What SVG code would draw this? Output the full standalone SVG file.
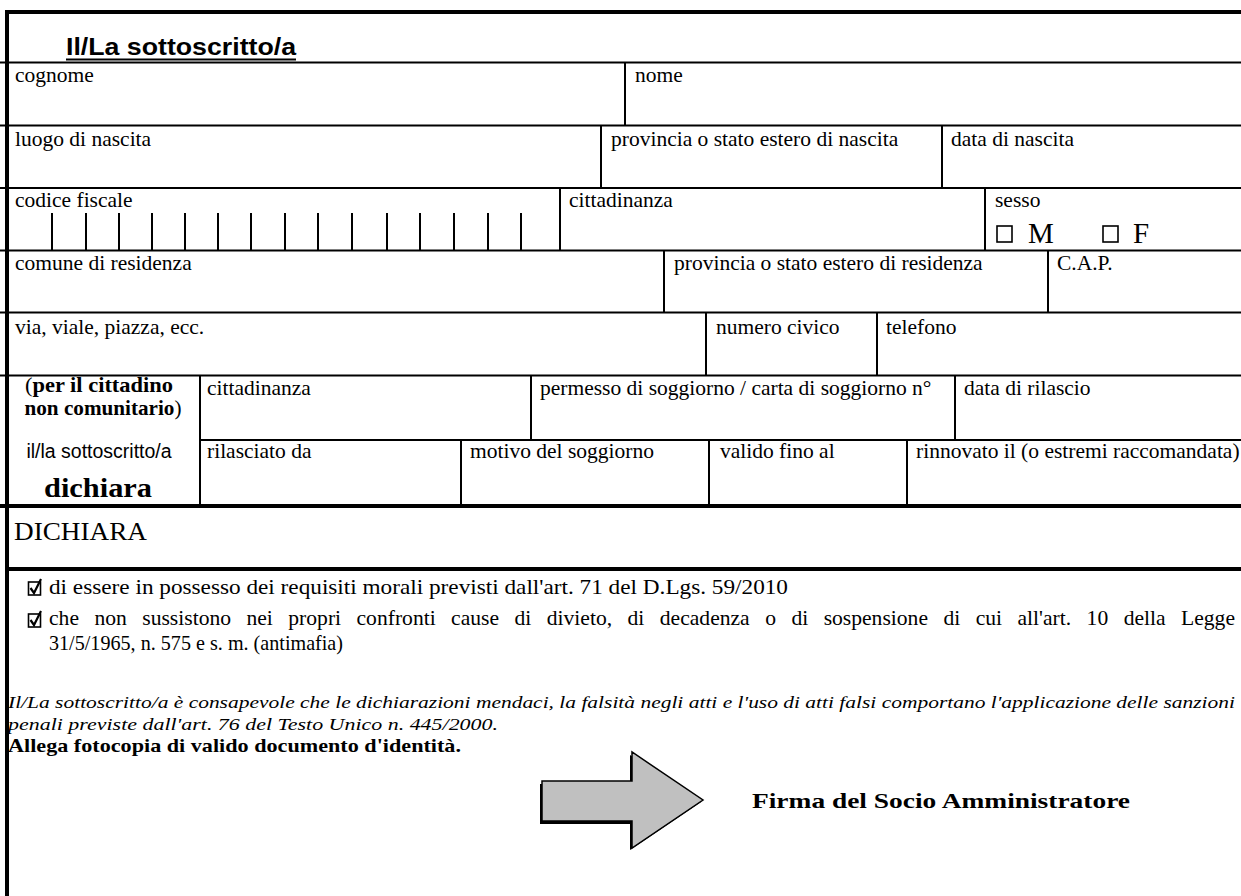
<svg xmlns="http://www.w3.org/2000/svg" width="1241" height="896" viewBox="0 0 1241 896">
<style>
.ln{stroke:#000;stroke-width:2;fill:none}
.thick{stroke:#000;stroke-width:4;fill:none}
.lbl{font-family:"Liberation Serif","Times New Roman",serif;font-size:21.5px;fill:#000}
.b{font-weight:bold}
.it{font-style:italic}
.sans{font-family:"Liberation Sans",Arial,sans-serif}
.box{fill:none;stroke:#000;stroke-width:1.6}
</style>
<rect width="1241" height="896" fill="#fff"/>
<g id="frame">
<line class="thick" x1="5" y1="12" x2="1241" y2="12"/>
<line class="thick" x1="7" y1="10" x2="7" y2="896"/>
</g>
<g id="title">
<text x="66" y="55" class="sans b" style="font-size:23.5px" textLength="230" lengthAdjust="spacingAndGlyphs">Il/La sottoscritto/a</text>
<line x1="66" y1="59.5" x2="296" y2="59.5" stroke="#000" stroke-width="2"/>
</g>
<g id="connectors">
<line class="ln" x1="0" y1="62.5" x2="1241" y2="62.5"/>
<line class="ln" x1="0" y1="125.5" x2="1241" y2="125.5"/>
<line class="ln" x1="0" y1="188" x2="1241" y2="188"/>
<line class="ln" x1="0" y1="250.5" x2="1241" y2="250.5"/>
<line class="ln" x1="0" y1="312.5" x2="1241" y2="312.5"/>
<line class="ln" x1="0" y1="375.5" x2="1241" y2="375.5"/>
<line class="ln" x1="200" y1="440" x2="1241" y2="440"/>
<line class="thick" x1="0" y1="506" x2="1241" y2="506"/>
<line class="thick" x1="9" y1="569" x2="1241" y2="569"/>
<line class="ln" x1="625" y1="62" x2="625" y2="125"/>
<line class="ln" x1="601" y1="125" x2="601" y2="188"/>
<line class="ln" x1="942" y1="125" x2="942" y2="188"/>
<line class="ln" x1="560" y1="188" x2="560" y2="250"/>
<line class="ln" x1="985" y1="188" x2="985" y2="250"/>
<line class="ln" x1="664" y1="250" x2="664" y2="312"/>
<line class="ln" x1="1048" y1="250" x2="1048" y2="312"/>
<line class="ln" x1="706" y1="312" x2="706" y2="375"/>
<line class="ln" x1="877" y1="312" x2="877" y2="375"/>
<line class="ln" x1="200" y1="375" x2="200" y2="506"/>
<line class="ln" x1="531" y1="375" x2="531" y2="440"/>
<line class="ln" x1="955" y1="375" x2="955" y2="440"/>
<line class="ln" x1="461" y1="440" x2="461" y2="506"/>
<line class="ln" x1="709" y1="440" x2="709" y2="506"/>
<line class="ln" x1="907" y1="440" x2="907" y2="506"/>
</g>
<g id="cognome"><text class="lbl" x="15" y="82">cognome</text></g>
<g id="nome"><text class="lbl" x="635" y="82">nome</text></g>
<g id="luogo-nascita"><text class="lbl" x="15" y="146">luogo di nascita</text></g>
<g id="provincia-nascita"><text class="lbl" x="611" y="146">provincia o stato estero di nascita</text></g>
<g id="data-nascita"><text class="lbl" x="951" y="146">data di nascita</text></g>
<g id="codice-fiscale">
<text class="lbl" x="15" y="207">codice fiscale</text>
<g class="ln">
<line x1="52" y1="213" x2="52" y2="250"/><line x1="86" y1="213" x2="86" y2="250"/><line x1="119" y1="213" x2="119" y2="250"/><line x1="152" y1="213" x2="152" y2="250"/><line x1="185" y1="213" x2="185" y2="250"/><line x1="218" y1="213" x2="218" y2="250"/><line x1="251" y1="213" x2="251" y2="250"/><line x1="285" y1="213" x2="285" y2="250"/><line x1="318" y1="213" x2="318" y2="250"/><line x1="352" y1="213" x2="352" y2="250"/><line x1="387" y1="213" x2="387" y2="250"/><line x1="420" y1="213" x2="420" y2="250"/><line x1="454" y1="213" x2="454" y2="250"/><line x1="488" y1="213" x2="488" y2="250"/><line x1="521" y1="213" x2="521" y2="250"/>
</g>
</g>
<g id="cittadinanza1"><text class="lbl" x="569" y="207">cittadinanza</text></g>
<g id="sesso">
<text class="lbl" x="995" y="207">sesso</text>
<rect class="box" x="997" y="226" width="15" height="16"/>
<text class="lbl" x="1028" y="243" style="font-size:29px">M</text>
<rect class="box" x="1103" y="226" width="15" height="16"/>
<text class="lbl" x="1133" y="243" style="font-size:29px">F</text>
</g>
<g id="comune-residenza"><text class="lbl" x="15" y="270">comune di residenza</text></g>
<g id="provincia-residenza"><text class="lbl" x="674" y="270">provincia o stato estero di residenza</text></g>
<g id="cap"><text class="lbl" x="1057" y="270">C.A.P.</text></g>
<g id="via"><text class="lbl" x="15" y="334">via, viale, piazza, ecc.</text></g>
<g id="numero-civico"><text class="lbl" x="716" y="334">numero civico</text></g>
<g id="telefono"><text class="lbl" x="886" y="334">telefono</text></g>
<g id="non-comunitario">
<text class="lbl" x="99" y="392" text-anchor="middle" textLength="148" lengthAdjust="spacingAndGlyphs">(<tspan class="b">per il cittadino</tspan></text>
<text class="lbl" x="103" y="415" text-anchor="middle" textLength="157" lengthAdjust="spacingAndGlyphs"><tspan class="b">non comunitario</tspan>)</text>
<text class="sans" x="99" y="458" style="font-size:19.5px" text-anchor="middle">il/la sottoscritto/a</text>
<text class="lbl b" x="98" y="497" style="font-size:27px" text-anchor="middle" textLength="108" lengthAdjust="spacingAndGlyphs">dichiara</text>
</g>
<g id="cittadinanza2"><text class="lbl" x="207" y="395">cittadinanza</text></g>
<g id="permesso"><text class="lbl" x="540" y="395">permesso di soggiorno / carta di soggiorno n°</text></g>
<g id="data-rilascio"><text class="lbl" x="964" y="395">data di rilascio</text></g>
<g id="rilasciato"><text class="lbl" x="207" y="458">rilasciato da</text></g>
<g id="motivo"><text class="lbl" x="470" y="458">motivo del soggiorno</text></g>
<g id="valido"><text class="lbl" x="720" y="458">valido fino al</text></g>
<g id="rinnovato"><text class="lbl" x="916" y="458">rinnovato il (o estremi raccomandata)</text></g>
<g id="dichiara-head"><text class="lbl" x="14" y="540" style="font-size:26px" textLength="133" lengthAdjust="spacingAndGlyphs">DICHIARA</text></g>
<g id="check1">
<rect class="box" x="28.5" y="582" width="12" height="13" stroke-width="1.8"/>
<path d="M30.5 588 L34 593 L41 579" fill="none" stroke="#000" stroke-width="2.2"/>
<text class="lbl" x="49" y="594" textLength="739" lengthAdjust="spacingAndGlyphs">di essere in possesso dei requisiti morali previsti dall'art. 71 del D.Lgs. 59/2010</text>
</g>
<g id="check2">
<rect class="box" x="28.5" y="614" width="12" height="13" stroke-width="1.8"/>
<path d="M30.5 620 L34 625 L41 611" fill="none" stroke="#000" stroke-width="2.2"/>
<text class="lbl" x="49" y="625" style="word-spacing:10px" textLength="1186" lengthAdjust="spacingAndGlyphs">che non sussistono nei propri confronti cause di divieto, di decadenza o di sospensione di cui all'art. 10 della Legge</text>
<text class="lbl" x="49" y="650" textLength="294" lengthAdjust="spacingAndGlyphs">31/5/1965, n. 575 e s. m. (antimafia)</text>
</g>
<g id="avvertenza">
<text class="lbl it" x="8" y="708" style="font-size:17.5px" textLength="1227" lengthAdjust="spacingAndGlyphs">Il/La sottoscritto/a è consapevole che le dichiarazioni mendaci, la falsità negli atti e l'uso di atti falsi comportano l'applicazione delle sanzioni</text>
<text class="lbl it" x="8" y="730" style="font-size:17.5px" textLength="490" lengthAdjust="spacingAndGlyphs">penali previste dall'art. 76 del Testo Unico n. 445/2000.</text>
<text class="lbl b" x="8" y="752" style="font-size:19px" textLength="453" lengthAdjust="spacingAndGlyphs">Allega fotocopia di valido documento d'identità.</text>
</g>
<g id="arrow">
<polygon points="540,784 630,784 630,755 701,802 630,850 630,824 540,824" fill="#000"/>
<polygon points="542,781 632,781 632,752 703,800 632,848 632,821 542,821" fill="#c0c0c0" stroke="#000" stroke-width="1.5"/>
</g>
<g id="firma"><text class="lbl b" x="752" y="808" style="font-size:22px" textLength="378" lengthAdjust="spacingAndGlyphs">Firma del Socio Amministratore</text></g>
</svg>
